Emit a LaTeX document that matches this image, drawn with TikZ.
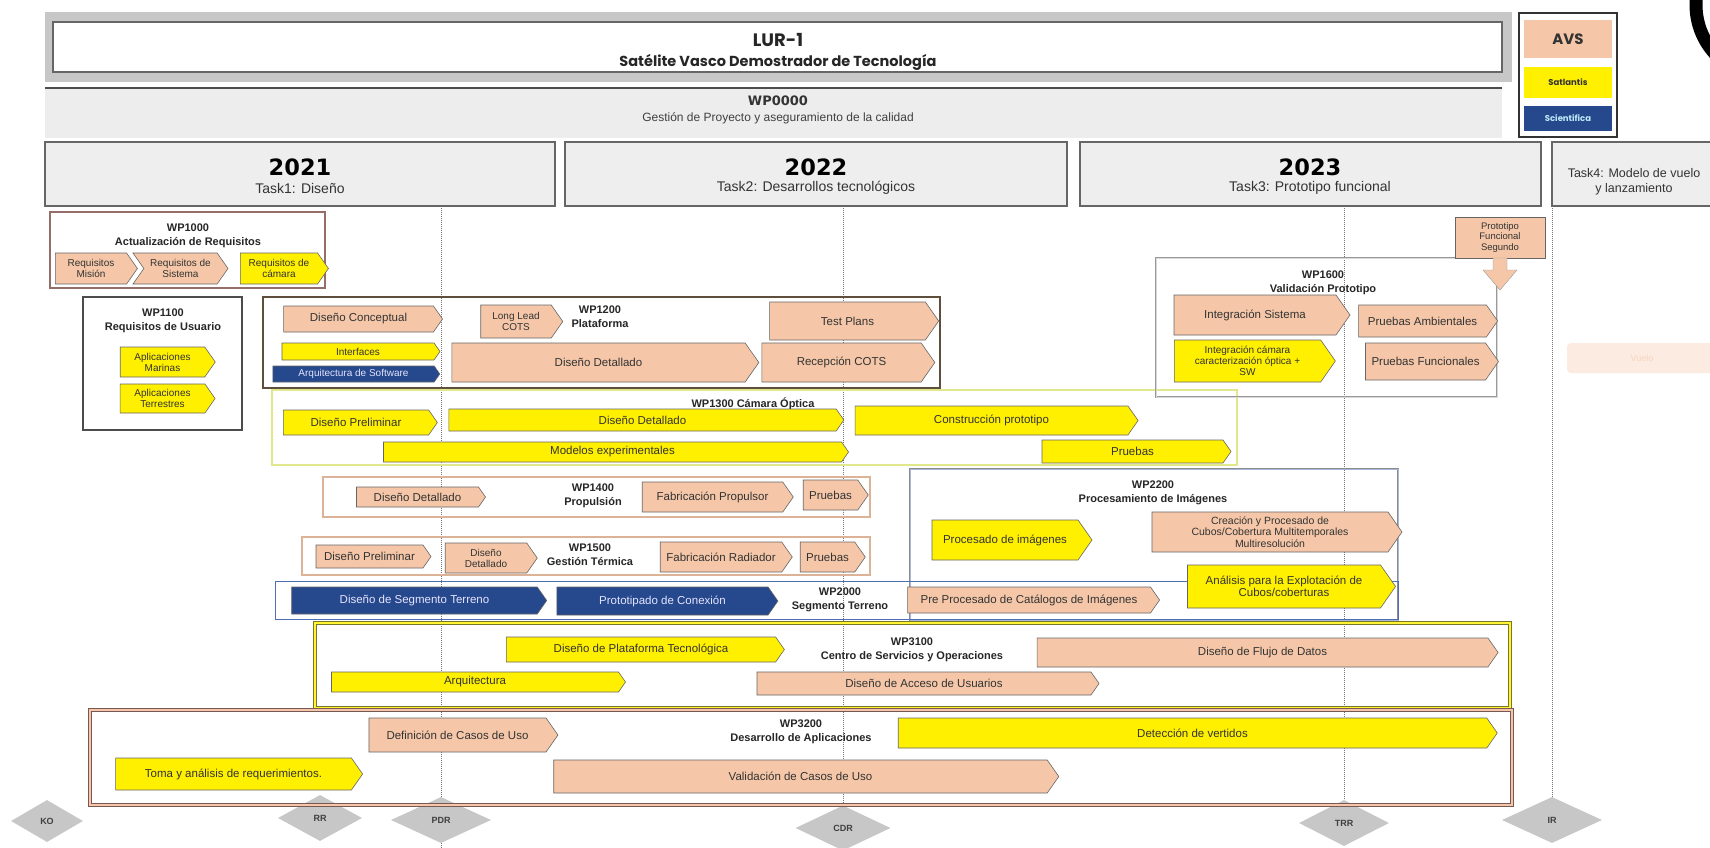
\documentclass[tikz,border=0pt]{standalone}
\usepackage{fontspec}
\setmainfont{Liberation Sans}
\newfontfamily\titlefont{Poppins}
\newfontfamily\yearfont{DejaVu Sans}
\usetikzlibrary{shapes.symbols,shapes.geometric}

\definecolor{avspeach}{RGB}{245,199,168}
\definecolor{satyellow}{RGB}{255,240,0}
\definecolor{sciblue}{RGB}{38,72,140}
\definecolor{yearfill}{RGB}{238,238,238}
\definecolor{wpbrown}{RGB}{95,78,60}
\definecolor{wprose}{RGB}{150,110,105}
\definecolor{wplime}{RGB}{225,232,140}
\definecolor{wpolive}{RGB}{120,120,40}
\definecolor{wpblue}{RGB}{80,110,180}

\tikzset{
  bar/.style={signal, signal to=east, signal pointer angle=110, draw=black!60, line width=0.6pt,
    inner sep=1pt, align=center, text=black!80, font=\fontsize{11.5}{12}\selectfont},
  avs/.style={bar, fill=avspeach},
  sat/.style={bar, fill=satyellow},
  sci/.style={bar, fill=sciblue, text=blue!10},
  wplabel/.style={font=\bfseries\fontsize{11}{14}\selectfont, align=center, text=black!85},
  yearbox/.style={draw=black!60, line width=1.2pt, fill=yearfill},
  hito/.style={diamond, aspect=2, fill=black!22, inner sep=0pt, font=\bfseries\fontsize{9}{9}\selectfont, text=black!75},
  hitoline/.style={densely dotted, black!55, line width=1pt},
}

\begin{document}
\begin{tikzpicture}[x=1pt,y=-1pt]
\useasboundingbox (0,0) rectangle (1710,848);
\fill[white] (0,0) rectangle (1710,848);

% cabecera
\fill[black!22] (45,12) rectangle (1512,82);
\draw[black!60, line width=1.2pt, fill=white] (53,22) rectangle (1502,72);
\node[font=\titlefont\bfseries\fontsize{18}{20}\selectfont, text=black!85] (lur) at (778,40) {LUR-1};
\node[font=\titlefont\bfseries\fontsize{14.5}{16}\selectfont, text=black!85] (sat) at (778,62) {Satélite Vasco Demostrador de Tecnología};

\fill[black!7] (45,88) rectangle (1502,138);
\draw[black!70, line width=1.2pt] (45,88) -- (1502,88);
\node[font=\yearfont\bfseries\fontsize{13}{14}\selectfont, text=black!80] (wp0) at (778,101) {WP0000};
\node[font=\fontsize{12}{13}\selectfont, text=black!75] (wp0t) at (778,118) {Gestión de Proyecto y aseguramiento de la calidad};

% leyenda
\draw[black!80, line width=2pt, fill=white] (1519,13) rectangle (1617,137);
\fill[avspeach] (1524,20) rectangle (1612,58);
\fill[satyellow] (1524,67) rectangle (1612,98);
\fill[sciblue] (1524,106) rectangle (1612,131);
\node[font=\titlefont\bfseries\fontsize{15}{16}\selectfont, text=black!80] (lavs) at (1568,39) {AVS};
\node[font=\titlefont\bfseries\fontsize{8.5}{9}\selectfont, text=black!80] (lsat) at (1568,82.5) {Satlantis};
\node[font=\titlefont\bfseries\fontsize{8.5}{9}\selectfont, text=cyan!25] (lsci) at (1568,118.5) {Scientifica};
\draw[black, line width=13pt] (1768,5) circle (72);

% años
\draw[yearbox] (45,142) rectangle (555,206);
\draw[yearbox] (565,142) rectangle (1067,206);
\draw[yearbox] (1080,142) rectangle (1541,206);
\draw[yearbox] (1552,142) rectangle (1725,206);
\node[font=\yearfont\bfseries\fontsize{22.5}{24}\selectfont] (y21) at (300,167) {2021};
\node[font=\fontsize{14}{15}\selectfont, text=black!80] (t1) at (300,188) {Task1: Diseño};
\node[font=\yearfont\bfseries\fontsize{22.5}{24}\selectfont] (y22) at (816,167) {2022};
\node[font=\fontsize{14}{15}\selectfont, text=black!80] (t2) at (816,188) {Task2: Desarrollos tecnológicos};
\node[font=\yearfont\bfseries\fontsize{22.5}{24}\selectfont] (y23) at (1310,167) {2023};
\node[font=\fontsize{14}{15}\selectfont, text=black!80] (t3) at (1310,188) {Task3: Prototipo funcional};
\node[font=\fontsize{12.5}{15}\selectfont, text=black!80, align=center] (t4) at (1634,182) {Task4: Modelo de vuelo\\y lanzamiento};

% hitos
\node[hito, minimum width=72, minimum height=42] (ko) at (47,821) {KO};
\node[hito, minimum width=84, minimum height=46] (rr) at (320,818) {RR};
\node[hito, minimum width=100, minimum height=46] (pdr) at (441,820) {PDR};
\node[hito, minimum width=95, minimum height=45] (cdr) at (843,828) {CDR};
\node[hito, minimum width=90, minimum height=46] (trr) at (1344,823) {TRR};
\node[hito, minimum width=100, minimum height=46] (ir) at (1552,820) {IR};
\coordinate (pdrtop) at (441,208);
\coordinate (pdrbot) at (441,848);
\coordinate (cdrtop) at (843,208);
\coordinate (trrtop) at (1344,208);
\coordinate (irtop) at (1552,208);
\draw[hitoline] (pdrtop) -- (pdr.north);
\draw[hitoline] (pdr.south) -- (pdrbot);
\draw[hitoline] (cdrtop) -- (cdr.north);
\draw[hitoline] (trrtop) -- (trr.north);
\draw[hitoline] (irtop) -- (ir.north);

% marcos de paquetes
\draw[wprose, line width=1.5pt, fill=white] (50,212) rectangle (325,288);
\draw[black!70, line width=1.8pt, fill=white] (83,297) rectangle (242,430);
\draw[wpbrown, line width=2pt] (263,297) rectangle (940,388);
\draw[wplime, line width=1.5pt] (272,390) rectangle (1237,465);
\draw[avspeach!90!black, line width=1.5pt] (323,477) rectangle (870,517);
\draw[avspeach!90!black, line width=1.5pt] (302,537) rectangle (870,575);
\draw[black!45, double=wpblue!50, line width=0.8pt, double distance=1pt] (910,469) rectangle (1398,620);
\draw[wpblue, line width=1pt] (275,581) rectangle (1398,619);
\draw[wpolive, double=satyellow!80, line width=1.2pt, double distance=1.5pt] (315,623) rectangle (1510,708);
\draw[wprose!80!black, double=avspeach, line width=1.2pt, double distance=1.5pt] (90,710) rectangle (1512,805);
\draw[black!40, double=black!15, line width=0.8pt, double distance=1pt] (1156,258) rectangle (1497,397);

% WP1000
\node[wplabel] (wp1000) at (188,236) {WP1000\\Actualización de Requisitos};
\node[avs, minimum width=82, minimum height=31, font=\fontsize{10}{11}\selectfont] (rmis) at (91,268.5) {Requisitos\\Misión};
\node[avs, signal from=west, minimum width=95, minimum height=31, font=\fontsize{10}{11}\selectfont] (rsis) at (180.5,268.5) {Requisitos de\\Sistema};
\node[sat, minimum width=88, minimum height=31, font=\fontsize{10}{11}\selectfont] (rcam) at (279,268.5) {Requisitos de\\cámara};

% WP1100
\node[wplabel] (wp1100) at (163,321) {WP1100\\Requisitos de Usuario};
\node[sat, minimum width=95, minimum height=30, font=\fontsize{10}{11}\selectfont] (amar) at (162.5,362) {Aplicaciones\\Marinas};
\node[sat, minimum width=95, minimum height=29, font=\fontsize{10}{11}\selectfont] (ater) at (162.5,398.5) {Aplicaciones\\Terrestres};

% WP1200
\node[wplabel] (wp1200) at (600,317) {WP1200\\Plataforma};
\node[avs, minimum width=159, minimum height=26] (dconc) at (358.5,319) {Diseño Conceptual};
\node[avs, minimum width=82, minimum height=33, font=\fontsize{10}{11}\selectfont] (lcots) at (516,321.5) {Long Lead\\COTS};
\node[avs, minimum width=169, minimum height=38] (tplan) at (847.5,321) {Test Plans};
\node[sat, minimum width=158, minimum height=17, font=\fontsize{10}{11}\selectfont] (intf) at (358,351.5) {Interfaces};
\node[sci, minimum width=167, minimum height=16, font=\fontsize{10}{11}\selectfont] (asw) at (353.5,374) {Arquitectura de Software};
\node[avs, minimum width=307, minimum height=39] (ddet) at (598.5,362.5) {Diseño Detallado};
\node[avs, minimum width=173, minimum height=39] (rcots) at (841.5,362.5) {Recepción COTS};

% WP1300
\node[wplabel] (wp1300) at (753,404) {WP1300 Cámara Óptica};
\node[sat, minimum width=154, minimum height=25] (dpre) at (356,422.5) {Diseño Preliminar};
\node[sat, minimum width=395, minimum height=22] (ddet2) at (642.5,420) {Diseño Detallado};
\node[sat, minimum width=283, minimum height=29] (cproto) at (991.5,420.5) {Construcción prototipo};
\node[sat, minimum width=465, minimum height=20] (mexp) at (612.5,452) {Modelos experimentales};
\node[sat, minimum width=189, minimum height=23] (pru1) at (1132.5,451.5) {Pruebas};

% WP1400
\node[wplabel] (wp1400) at (593,496) {WP1400\\Propulsión};
\node[avs, minimum width=129, minimum height=20] (ddet3) at (417.5,497) {Diseño Detallado};
\node[avs, minimum width=151, minimum height=30] (fprop) at (712.5,497) {Fabricación Propulsor};
\node[avs, minimum width=65, minimum height=30] (pru2) at (830.5,495) {Pruebas};

% WP1500
\node[wplabel] (wp1500) at (590,555) {WP1500\\Gestión Térmica};
\node[avs, minimum width=115, minimum height=23] (dpre2) at (369.5,556.5) {Diseño Preliminar};
\node[avs, minimum width=92, minimum height=30, font=\fontsize{10}{11}\selectfont] (ddet4) at (486,558) {Diseño\\Detallado};
\node[avs, minimum width=132, minimum height=30] (frad) at (721,557) {Fabricación Radiador};
\node[avs, minimum width=65, minimum height=30] (pru3) at (827.5,557) {Pruebas};

% WP2000 / WP2200
\node[wplabel] (wp2000) at (840,600) {WP2000\\Segmento Terreno};
\node[sci, minimum width=255, minimum height=27] (dseg) at (414.5,600.5) {Diseño de Segmento Terreno};
\node[sci, minimum width=221, minimum height=28] (pcon) at (662.5,601) {Prototipado de Conexión};
\node[avs, minimum width=252, minimum height=26] (ppro) at (1029,600) {Pre Procesado de Catálogos de Imágenes};
\node[wplabel] (wp2200) at (1153,493) {WP2200\\Procesamiento de Imágenes};
\node[sat, minimum width=160, minimum height=40] (pimg) at (1005,540) {Procesado de imágenes};
\node[avs, minimum width=250, minimum height=40, font=\fontsize{10.5}{11.5}\selectfont] (ccub) at (1270,532) {Creación y Procesado de\\Cubos/Cobertura Multitemporales\\Multiresolución};
\node[sat, minimum width=208, minimum height=43] (anal) at (1284,586.5) {Análisis para la Explotación de\\Cubos/coberturas};

% WP3100
\node[wplabel] (wp3100) at (912,650) {WP3100\\Centro de Servicios y Operaciones};
\node[sat, minimum width=278, minimum height=25] (dplat) at (641,649.5) {Diseño de Plataforma Tecnológica};
\node[avs, minimum width=461, minimum height=29] (dflu) at (1262.5,652.5) {Diseño de Flujo de Datos};
\node[sat, minimum width=294, minimum height=20] (arq) at (475,682) {Arquitectura};
\node[avs, minimum width=342, minimum height=23] (dacc) at (924,683.5) {Diseño de Acceso de Usuarios};

% WP3200
\node[wplabel] (wp3200) at (801,732) {WP3200\\Desarrollo de Aplicaciones};
\node[avs, minimum width=189, minimum height=34] (dcas) at (457.5,735) {Definición de Casos de Uso};
\node[sat, minimum width=599, minimum height=30] (dete) at (1192.5,733) {Detección de vertidos};
\node[sat, minimum width=247, minimum height=32] (toma) at (233.5,774) {Toma y análisis de requerimientos.};
\node[avs, minimum width=505, minimum height=33] (vcas) at (800.5,776.5) {Validación de Casos de Uso};

% WP1600
\node[draw=black!60, fill=avspeach, minimum width=90, minimum height=41, inner sep=1pt, align=center,
  font=\fontsize{9.5}{10.5}\selectfont, text=black!80] (proto) at (1500,237.5) {Prototipo\\Funcional\\Segundo};
\coordinate (protoarr) at (1500,290);
\draw[black!40, fill=avspeach] (1493,258) -- (1507,258) -- (1507,270) -- (1517,270) -- (protoarr) -- (1483,270) -- (1493,270) -- cycle;
\node[wplabel] (wp1600) at (1323,283) {WP1600\\Validación Prototipo};
\node[avs, minimum width=176, minimum height=40] (isis) at (1255,315) {Integración Sistema};
\node[sat, minimum width=161, minimum height=42, font=\fontsize{10}{11}\selectfont] (icam) at (1247.5,361) {Integración cámara\\caracterización óptica +\\SW};
\node[avs, minimum width=139, minimum height=32] (pamb) at (1422.5,321) {Pruebas Ambientales};
\node[avs, minimum width=133, minimum height=37] (pfun) at (1425.5,361.5) {Pruebas Funcionales};

% fase de vuelo
\node[fill=avspeach!35, rounded corners=4pt, minimum width=150, minimum height=30, text=avspeach!75,
  font=\fontsize{9}{10}\selectfont] (vuelo) at (1642,358) {Vuelo};

\end{tikzpicture}
\end{document}
